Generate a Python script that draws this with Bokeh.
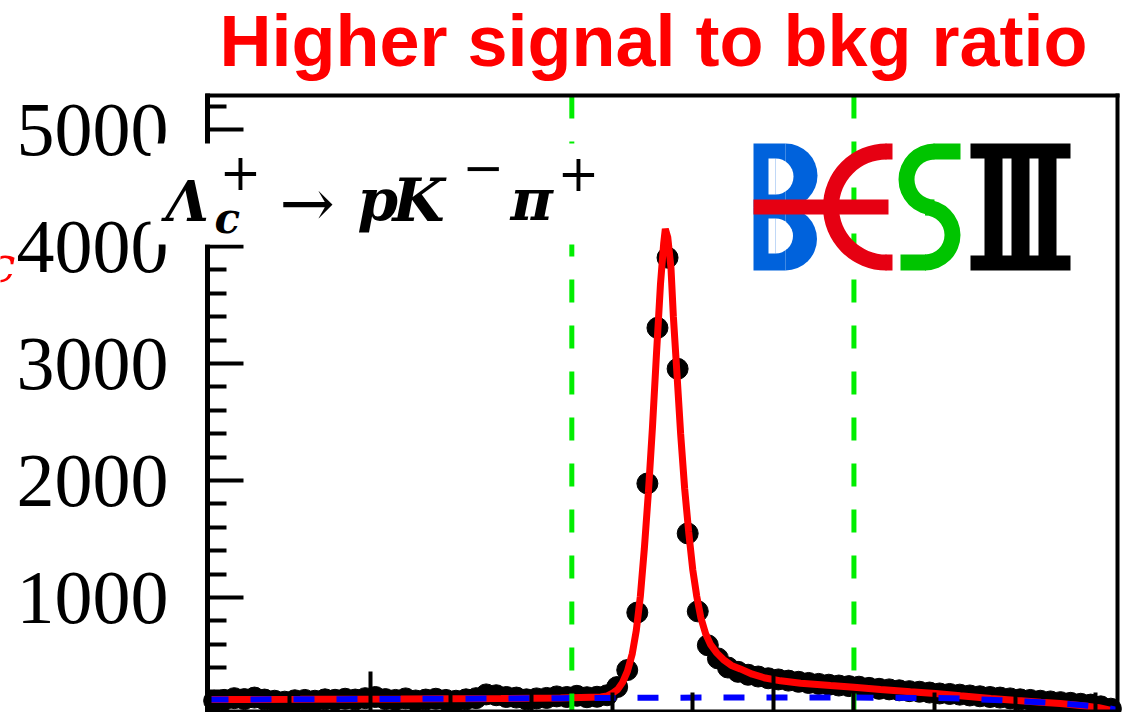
import numpy as np
from bokeh.plotting import figure
from bokeh.models import Range1d, FixedTicker, Label, BoxAnnotation, LinearAxis, CustomJSTickFormatter
from bokeh.core.properties import value
from bokeh.embed import file_html
from bokeh.resources import INLINE

# ---------------- data ----------------
bin_lo = 2.23          # GeV, left edge of first bin
bin_width = 0.00125    # GeV
counts = [118, 125, 140, 132, 145, 128, 118, 110, 122, 125,
          118, 130, 126, 135, 128, 140, 150, 132, 125, 138,
          120, 128, 135, 125, 118, 130, 140, 172, 165, 150,
          145, 130, 138, 142, 155, 150, 160, 148, 152, 165,
          235, 380, 872, 1975, 3305, 3905, 2955, 1548, 882, 592,
          480, 402, 365, 340, 325, 310, 300, 290, 280, 270,
          262, 255, 248, 243, 238, 228, 220, 215, 207, 200,
          195, 188, 180, 176, 170, 163, 156, 150, 145, 138,
          130, 125, 118, 112, 106, 100, 92, 85, 70, 50]

fit_x = [2.2298, 2.2413, 2.2538, 2.2662, 2.2736, 2.2786, 2.2794, 2.2800, 2.2807,
         2.2813, 2.2819, 2.2825, 2.2830, 2.2835, 2.2840, 2.2845, 2.2850, 2.2855,
         2.2860, 2.2864, 2.2866, 2.2869, 2.2873, 2.2876, 2.2880, 2.2885, 2.2890,
         2.2895, 2.2900, 2.2905, 2.2910, 2.2916, 2.2922, 2.2930, 2.2938, 2.2948,
         2.2959, 2.2974, 2.2990, 2.3009, 2.3034, 2.3071, 2.3100, 2.3133, 2.3170,
         2.3201, 2.3232, 2.3270, 2.3303, 2.3332, 2.3356, 2.3381, 2.3404, 2.3418,
         2.3427]
fit_total = [128, 130, 133, 137, 142, 150, 160, 180, 215,
             275, 370, 520, 720, 1010, 1420, 1900, 2450, 3080,
             3680, 4030, 4150, 4080, 3820, 3400, 2960, 2400, 1930,
             1560, 1240, 1010, 830, 690, 600, 525, 470, 420,
             390, 345, 312, 288, 268, 248, 233, 215, 195,
             179, 160, 138, 120, 105, 95, 78, 58, 38,
             25]

bkg_x = [2.2298, 2.2538, 2.2736, 2.2910, 2.3096, 2.3220, 2.3282, 2.3332, 2.3381, 2.3406, 2.3427]
bkg_y = [128, 133, 140, 145, 145, 140, 122, 105, 82, 65, 40]

signal_window = [2.275, 2.310]
y_major = [1000, 2000, 3000, 4000, 5000]
y_labels = ["1000", "2000", "3000", "4000", "5000"]
y_minor = [200, 400, 600, 800, 1200, 1400, 1600, 1800, 2200, 2400, 2600, 2800,
           3200, 3400, 3600, 3800, 4200, 4400, 4600, 4800, 5200]
x_major = [2.25, 2.30]
x_minor = [2.23, 2.24, 2.26, 2.27, 2.28, 2.29, 2.31, 2.32, 2.33, 2.34]

title_text = "Higher signal to bkg ratio"

# ---------------- layout (canvas pixels of the plot box) ----------------
W, H = 1122, 712
FL, FR, FT, FB = 207, 1117, 95, 711     # plot box edges
X0, X1 = 2.2298, 2.3427                 # x at FL / FR
Y0, Y1 = 26, 5291                       # y at FB / FT


def X(px):
    return X0 + (px - FL) / (FR - FL) * (X1 - X0)


def Y(py):
    return Y0 + (FB - py) / (FB - FT) * (Y1 - Y0)


p = figure(width=W, height=H, output_backend="svg", toolbar_location=None,
           x_range=Range1d(X(0), X(W)), y_range=Range1d(Y(H), Y(0)),
           min_border=0, min_border_left=0, min_border_right=0,
           min_border_top=0, min_border_bottom=0)
p.background_fill_color = "white"
p.border_fill_color = "white"
p.outline_line_color = None
p.xgrid.visible = False
p.ygrid.visible = False

blank = CustomJSTickFormatter(code="return ''")


def style_axis(ax, tin, tmin, lw):
    ax.major_tick_in = tin
    ax.major_tick_out = 0
    ax.minor_tick_in = tmin
    ax.minor_tick_out = 0
    ax.major_tick_line_width = 4
    ax.minor_tick_line_width = 4
    ax.axis_line_width = lw
    ax.major_tick_line_color = "black"
    ax.minor_tick_line_color = "black"
    ax.axis_line_color = "black"
    ax.formatter = blank
    ax.major_label_text_font_size = "1px"
    ax.major_label_standoff = 0


# y axis drawn at the left edge of the box
yax = p.yaxis[0]
yax.ticker = FixedTicker(ticks=y_major, minor_ticks=y_minor)
style_axis(yax, 36, 19, 5)
yax.fixed_location = X(FL)
yax.bounds = (Y(FB + 2), Y(FT - 2))

# x axis drawn at the bottom edge of the box
xax = p.xaxis[0]
xax.ticker = FixedTicker(ticks=x_major, minor_ticks=x_minor)
style_axis(xax, 40, 19, 4)
xax.fixed_location = Y(FB)
xax.bounds = (X(FL), X(FR))

# top and right edges of the box
top_ax = LinearAxis(ticker=FixedTicker(ticks=[], minor_ticks=[]), fixed_location=Y(FT),
                    bounds=(X(FL - 2), X(FR + 2)))
style_axis(top_ax, 0, 0, 4)
p.add_layout(top_ax, "above")
right_ax = LinearAxis(ticker=FixedTicker(ticks=[], minor_ticks=[]), fixed_location=X(FR),
                      bounds=(Y(FB + 2), Y(FT - 2)))
style_axis(right_ax, 0, 0, 4)
p.add_layout(right_ax, "right")

# y tick labels
p.text(x=[X(168)] * len(y_major), y=y_major, text=y_labels,
       text_font=value("Liberation Serif"), text_font_size="76px",
       text_align="right", text_baseline="middle", text_color="black")

# data points
centers = bin_lo + bin_width * (np.arange(len(counts)) + 0.5)
p.scatter(centers, counts, size=21, color="black")
# fits
p.line(fit_x, fit_total, line_color="#FF0000", line_width=7)
p.line(bkg_x, bkg_y, line_color="#0000FF", line_width=6, line_dash="21 22")
# signal window
p.segment(x0=signal_window, x1=signal_window, y0=[Y(FT)] * 2, y1=[Y(FB)] * 2,
          line_color="#00EE00", line_width=5, line_dash="23 23")


# ---------------- BESIII logo ----------------
def quad(l, r, t, b, c):
    p.quad(left=X(l), right=X(r), top=Y(t), bottom=Y(b), color=c, line_width=0)


def halfdisc(cx, cy, rad, a0, a1, c):
    p.wedge(x=X(cx), y=Y(cy), radius=rad, radius_units="screen",
            start_angle=a0, end_angle=a1, start_angle_units="deg", end_angle_units="deg",
            color=c, line_width=0)


def ring(cx, cy, ri, ro, a0, a1, c):
    p.annular_wedge(x=X(cx), y=Y(cy), inner_radius=ri, outer_radius=ro,
                    inner_radius_units="screen", outer_radius_units="screen",
                    start_angle=a0, end_angle=a1, start_angle_units="deg", end_angle_units="deg",
                    color=c, line_width=0)


BLUE, RED, GREEN = "#0062DC", "#E60012", "#00C400"
# B
quad(753, 785, 143, 207, BLUE)
halfdisc(785, 175, 32, -90, 90, BLUE)
quad(753, 785, 207, 270, BLUE)
halfdisc(785, 238.5, 31.5, -90, 90, BLUE)
quad(768, 775, 158, 194, "white")
halfdisc(775, 176, 18, -90, 90, "white")
quad(768, 775, 218, 253, "white")
halfdisc(775, 235.5, 17.5, -90, 90, "white")
# C + bar
ring(886, 206.5, 47.5, 63.5, 90, 270, RED)
quad(885, 892, 143, 159, RED)
quad(885, 892, 254, 270, RED)
quad(753, 888, 199, 214, RED)
# S
ring(934, 179, 20, 36, 90, 270, GREEN)
ring(924.5, 234.5, 19.5, 35.5, -90, 90, GREEN)
quad(933, 960, 143, 159, GREEN)
quad(900, 925.5, 254, 270, GREEN)
# III
quad(970, 1070, 143, 158, "black")
quad(970, 1070, 255, 270, "black")
for l in (984, 1011, 1038):
    quad(l, l + 18, 157, 256, "black")

# ---------------- annotations ----------------
p.add_layout(BoxAnnotation(left=X(150), right=X(598), top=Y(143), bottom=Y(244),
                           fill_color="white", fill_alpha=1.0, line_alpha=0))

MID = 0.346  # centre of the em box above the baseline, in em


def lab(px, base_y, text, size, style="bold italic", font="DejaVu Serif", color="black",
        align="left", centre=False):
    py = base_y if centre else base_y - MID * size
    p.add_layout(Label(x=X(px), y=Y(py), text=text, text_font=font,
                       text_font_size=f"{size}px", text_font_style=style,
                       text_color=color, text_baseline="middle", text_align=align))


lab(165, 220, "Λ", 56)
lab(214, 233, "c", 42)
lab(219, 171, "+", 50, style="normal", centre=True)
lab(279, 203, "→", 66, style="normal", centre=True)
lab(357, 220, "p", 58)
lab(392, 220, "K", 60)
lab(462, 166, "−", 50, style="normal", centre=True)
lab(510, 220, "π", 58)
lab(557, 172, "+", 50, style="normal", centre=True)

lab(653, 65, title_text, 72, style="bold", font="Liberation Sans", color="#FF0000", align="center")
lab(-13, 282, "c", 50, style="italic", color="#FF0000")

open("out.html", "w").write(file_html(p, INLINE))
